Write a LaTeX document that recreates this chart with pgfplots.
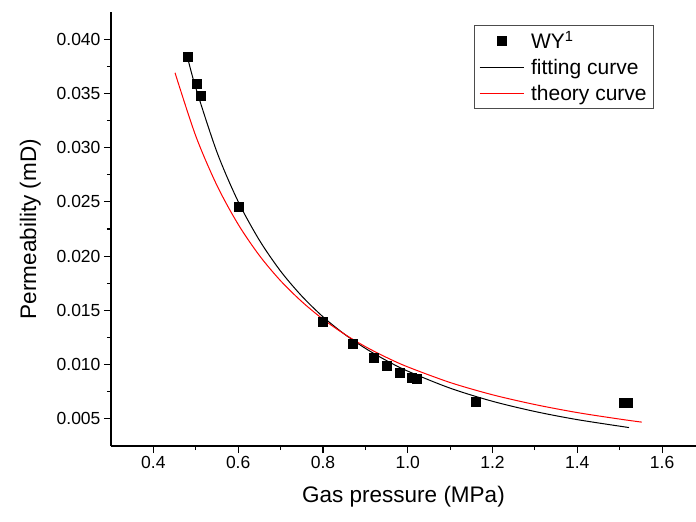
\documentclass[border=0pt]{standalone}
\usepackage{pgfplots}
\pgfplotsset{compat=1.18}
\usepackage{fontspec}
\setmainfont{Liberation Sans}

\begin{document}
\begin{tikzpicture}
\useasboundingbox (-111pt,-76pt) rectangle (585pt,446pt);
\begin{axis}[
    scale only axis,
    width=585pt, height=434pt,
    xmin=0.3, xmax=1.68,
    ymin=0.0025, ymax=0.0425,
    axis x line*=bottom, axis y line*=left,
    axis line style={-, line width=1.1pt},
    tick style={black, line width=1.1pt},
    tick align=outside,
    major tick length=7pt, minor tick length=4pt,
    xtick={0.4,0.6,...,1.6},
    ytick={0.005,0.010,...,0.040},
    minor x tick num=1, minor y tick num=1,
    xticklabel style={/pgf/number format/.cd, fixed, fixed zerofill, precision=1},
    yticklabel style={/pgf/number format/.cd, fixed, fixed zerofill, precision=3},
    scaled y ticks=false,
    /pgf/number format/assume math mode=true,
    tick label style={font=\fontsize{17.5}{20}\selectfont},
    label style={font=\fontsize{22.5}{26}\selectfont},
    xlabel={Gas pressure (MPa)},
    ylabel={Permeability (mD)},
    xlabel style={yshift=-10pt},
    ylabel style={yshift=9pt},
    legend style={at={(0.928,0.970)}, anchor=north east, draw=black!70,
        font=\fontsize{21}{24}\selectfont, row sep=5pt, inner xsep=5pt, inner ysep=4pt,
        /tikz/every odd column/.append style={column sep=5pt}},
    legend cell align=left,
    legend image code/.code={%
        \draw[mark repeat=2,mark phase=2,#1]
            plot coordinates {(0pt,0pt) (22pt,0pt) (44pt,0pt)};},
]
\addplot[only marks, mark=square*, mark size=4.5pt, black] coordinates {
    (0.481,0.0384) (0.501,0.0359) (0.511,0.0348) (0.602,0.0246)
    (0.800,0.0140) (0.870,0.0119) (0.920,0.0106) (0.950,0.0099)
    (0.980,0.0093) (1.010,0.0088) (1.020,0.0087) (1.161,0.0066)
    (1.510,0.0065) (1.520,0.0065)
};
\addlegendentry{WY\textsuperscript{1}}

\addplot[black, line width=1pt, smooth, no marks] coordinates {
    (0.48,0.0384) (0.50,0.03551) (0.55,0.02958) (0.60,0.02503)
    (0.65,0.02147) (0.70,0.01862) (0.75,0.01632) (0.80,0.01441)
    (0.85,0.01283) (0.90,0.01150) (0.95,0.01037) (1.00,0.00940)
    (1.10,0.00783) (1.20,0.00662) (1.30,0.00568) (1.40,0.00493)
    (1.522,0.0042)
};
\addlegendentry{fitting curve}

\addplot[red, line width=1pt, smooth, no marks] coordinates {
    (0.451,0.0369) (0.50,0.03107) (0.55,0.02651) (0.60,0.02293)
    (0.65,0.02006) (0.70,0.01773) (0.75,0.01581) (0.80,0.01419)
    (0.85,0.01283) (0.90,0.01166) (0.95,0.01066) (1.00,0.00979)
    (1.10,0.00835) (1.20,0.00722) (1.30,0.00632) (1.40,0.00558)
    (1.50,0.00498) (1.552,0.0047)
};
\addlegendentry{theory curve}
\end{axis}
\end{tikzpicture}
\end{document}
